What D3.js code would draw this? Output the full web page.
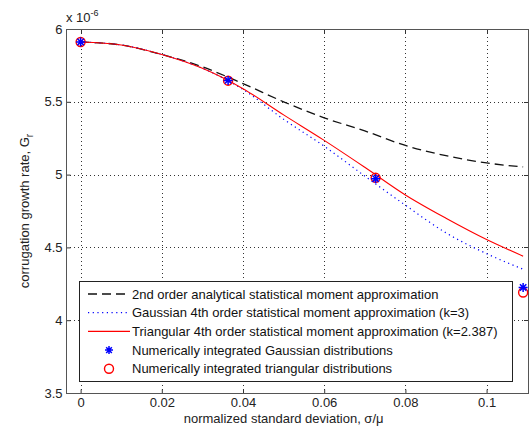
<!DOCTYPE html>
<html><head><meta charset="utf-8">
<script src="https://cdn.jsdelivr.net/npm/d3@7"></script>
<style>
body{margin:0;background:#fff;}
text{font-family:Arial,"Liberation Sans",sans-serif;}
</style></head>
<body><svg id="c" width="530" height="432"></svg>
<script>
const sigma = [0, 0.01, 0.02, 0.03, 0.04, 0.05, 0.06, 0.07, 0.08, 0.09, 0.1, 0.109];
const secondOrder = [5.911, 5.89, 5.825, 5.74, 5.625, 5.50, 5.39, 5.30, 5.20, 5.13, 5.08, 5.053];
const gauss4th = [5.911, 5.89, 5.825, 5.73, 5.585, 5.38, 5.195, 4.99, 4.79, 4.60, 4.457, 4.35];
const tri4th = [5.911, 5.89, 5.825, 5.73, 5.59, 5.41, 5.235, 5.05, 4.86, 4.70, 4.554, 4.44];
const numSigma = [0, 0.03633, 0.07267, 0.109];
const numGauss = [5.911, 5.647, 4.972, 4.225];
const numTri = [5.911, 5.645, 4.978, 4.19];
const xTicks = [0, 0.02, 0.04, 0.06, 0.08, 0.1];
const xTickLabels = ["0", "0.02", "0.04", "0.06", "0.08", "0.1"];
const yTicks = [3.5, 4, 4.5, 5, 5.5, 6];
const yTickLabels = ["3.5", "4", "4.5", "5", "5.5", "6"];
const legendLabels = [
  "2nd order analytical statistical moment approximation",
  "Gaussian 4th order statistical moment approximation (k=3)",
  "Triangular 4th order statistical moment approximation (k=2.387)",
  "Numerically integrated Gaussian distributions",
  "Numerically integrated triangular distributions"
];

const svg = d3.select("#c");
const L = 66, R = 528, T = 29, B = 393;
const x = d3.scaleLinear().domain([-0.0036, 0.1102]).range([L, R]);
const y = d3.scaleLinear().domain([3.5, 6]).range([B, T]);

// grid
const g = svg.append("g");
g.selectAll(".gx").data(xTicks).enter().append("line")
  .attr("x1", d => Math.round(x(d)) + 0.5).attr("x2", d => Math.round(x(d)) + 0.5)
  .attr("y1", T).attr("y2", B).attr("stroke", "#000").attr("stroke-width", 1)
  .attr("stroke-dasharray", "1,3").attr("opacity", 0.8);
g.selectAll(".gy").data(yTicks).enter().append("line")
  .attr("y1", d => Math.round(y(d)) + 0.5).attr("y2", d => Math.round(y(d)) + 0.5)
  .attr("x1", L).attr("x2", R).attr("stroke", "#000").attr("stroke-width", 1)
  .attr("stroke-dasharray", "1,3").attr("opacity", 0.8);

// axes
const xAxis = d3.axisBottom(x).tickValues(xTicks).tickFormat((d, i) => xTickLabels[i]).tickSizeInner(-4).tickSizeOuter(0).tickPadding(4);
const yAxis = d3.axisLeft(y).tickValues(yTicks).tickFormat((d, i) => yTickLabels[i]).tickSizeInner(-4).tickSizeOuter(0).tickPadding(4);
const xa = svg.append("g").attr("transform", `translate(0,${B + 0.5})`).call(xAxis);
const ya = svg.append("g").attr("transform", `translate(${L + 0.5},0)`).call(yAxis);
[xa, ya].forEach(a => {
  a.select(".domain").remove();
  a.selectAll("line").attr("stroke", "#333");
  a.selectAll("text").attr("font-size", 13).attr("fill", "#222")
    .attr("font-family", "Arial, 'Liberation Sans', sans-serif");
});
// top/right ticks
svg.append("g").selectAll("line").data(xTicks).enter().append("line")
  .attr("x1", d => Math.round(x(d)) + 0.5).attr("x2", d => Math.round(x(d)) + 0.5)
  .attr("y1", T).attr("y2", T + 4).attr("stroke", "#333");
svg.append("g").selectAll("line").data(yTicks).enter().append("line")
  .attr("y1", d => Math.round(y(d)) + 0.5).attr("y2", d => Math.round(y(d)) + 0.5)
  .attr("x1", R - 4).attr("x2", R).attr("stroke", "#333");

// frame
svg.append("rect").attr("x", L + 0.5).attr("y", T + 0.5).attr("width", R - L).attr("height", B - T)
  .attr("fill", "none").attr("stroke", "#555").attr("stroke-width", 1);

// lines
const line = d3.line().x(d => x(d[0])).y(d => y(d[1])).curve(d3.curveMonotoneX);
svg.append("clipPath").attr("id", "clp").append("rect")
  .attr("x", L).attr("y", T).attr("width", R - L).attr("height", B - T);
const plot = svg.append("g").attr("clip-path", "url(#clp)");
plot.append("path").datum(sigma.map((s, i) => [s, secondOrder[i]])).attr("d", line)
  .attr("fill", "none").attr("stroke", "#111").attr("stroke-width", 1.3).attr("stroke-dasharray", "9,5");
plot.append("path").datum(sigma.map((s, i) => [s, gauss4th[i]])).attr("d", line)
  .attr("fill", "none").attr("stroke", "#0000ff").attr("stroke-width", 1.2).attr("stroke-dasharray", "1.2,3.5");
plot.append("path").datum(sigma.map((s, i) => [s, tri4th[i]])).attr("d", line)
  .attr("fill", "none").attr("stroke", "#ff0000").attr("stroke-width", 1.1);

function star(sel, cx, cy, r) {
  const p = [];
  for (let k = 0; k < 4; k++) {
    const a = k * Math.PI / 4;
    p.push(`M${cx - r * Math.cos(a)},${cy - r * Math.sin(a)}L${cx + r * Math.cos(a)},${cy + r * Math.sin(a)}`);
  }
  sel.append("path").attr("d", p.join("")).attr("stroke", "#0000ff").attr("stroke-width", 1.5).attr("fill", "none");
}
const mk = svg.append("g");
numSigma.forEach((s, i) => {
  mk.append("circle").attr("cx", x(s)).attr("cy", y(numTri[i])).attr("r", 4.5)
    .attr("fill", "none").attr("stroke", "#ff0000").attr("stroke-width", 1.4);
});
numSigma.forEach((s, i) => star(mk, x(s), y(numGauss[i]), 4.5));

// legend
const lgX = 79, lgY = 281, lgW = 433, lgH = 100;
svg.append("rect").attr("x", lgX + 0.5).attr("y", lgY + 0.5).attr("width", lgW).attr("height", lgH)
  .attr("fill", "#fff").attr("stroke", "#222").attr("stroke-width", 1);
const rowY = i => lgY + 13 + i * 18.7;
const lg = svg.append("g");
lg.append("line").attr("x1", 88).attr("x2", 130).attr("y1", rowY(0)).attr("y2", rowY(0))
  .attr("stroke", "#111").attr("stroke-width", 1.3).attr("stroke-dasharray", "9,5");
lg.append("line").attr("x1", 88).attr("x2", 130).attr("y1", rowY(1)).attr("y2", rowY(1))
  .attr("stroke", "#0000ff").attr("stroke-width", 1.2).attr("stroke-dasharray", "1.2,3.5");
lg.append("line").attr("x1", 88).attr("x2", 130).attr("y1", rowY(2)).attr("y2", rowY(2))
  .attr("stroke", "#ff0000").attr("stroke-width", 1.1);
star(lg, 109, rowY(3), 4);
lg.append("circle").attr("cx", 109).attr("cy", rowY(4)).attr("r", 4.5)
  .attr("fill", "none").attr("stroke", "#ff0000").attr("stroke-width", 1.4);
legendLabels.forEach((t, i) => {
  lg.append("text").attr("x", 132).attr("y", rowY(i) + 4.5).attr("font-size", 13).attr("fill", "#111").text(t);
});

// axis labels
svg.append("text").attr("x", x(0.05)).attr("y", 423).attr("text-anchor", "middle")
  .attr("font-size", 13).attr("fill", "#222").text("normalized standard deviation, σ/μ");
const yl = svg.append("text").attr("transform", `translate(29,${(T + B) / 2}) rotate(-90)`)
  .attr("text-anchor", "middle").attr("font-size", 13).attr("fill", "#222");
yl.append("tspan").text("corrugation growth rate, G");
yl.append("tspan").attr("dy", 4).attr("font-size", 10).text("r");
const ex = svg.append("text").attr("x", 66).attr("y", 22).attr("font-size", 13).attr("fill", "#222");
ex.append("tspan").text("x 10");
ex.append("tspan").attr("dy", -6).attr("font-size", 9).text("-6");
</script></body></html>
